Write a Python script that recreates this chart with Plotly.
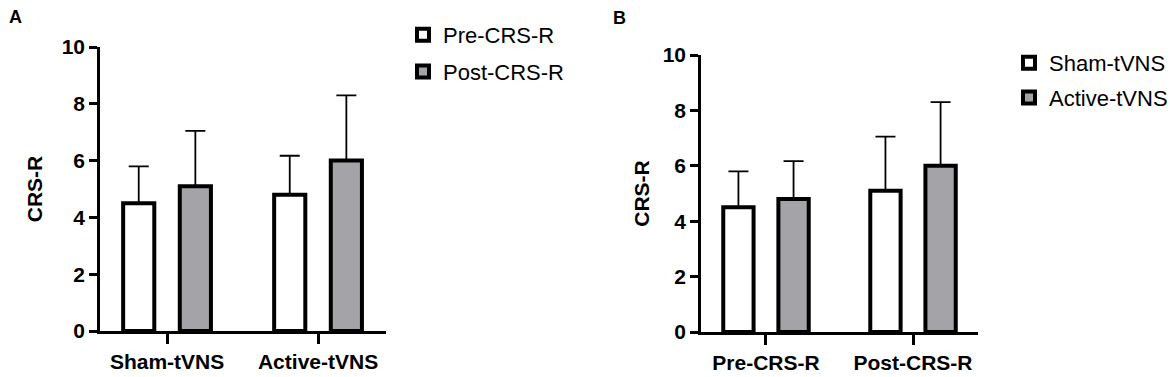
import plotly.graph_objects as go

W, H = 1170, 377

# ---- data ----
groups_a = ["Sham-tVNS", "Active-tVNS"]
pre_mean = [4.5, 4.8]       # Pre-CRS-R for Sham, Active
pre_sd = [1.3, 1.37]
post_mean = [5.1, 6.0]      # Post-CRS-R for Sham, Active
post_sd = [1.95, 2.3]

groups_b = ["Pre-CRS-R", "Post-CRS-R"]
sham_mean = [4.5, 5.1]
sham_sd = [1.3, 1.95]
active_mean = [4.8, 6.0]
active_sd = [1.37, 2.3]

y_ticks = [0, 2, 4, 6, 8, 10]

WHITE = "#ffffff"
GRAY = "#a4a3a8"
FONT = "Liberation Sans, Arial, sans-serif"

def bar(name, xs, ys, sd, color, xaxis, yaxis, legend):
    return go.Bar(
        name=name, x=xs, y=ys, xaxis=xaxis, yaxis=yaxis, legend=legend,
        marker=dict(color=color, line=dict(color="black", width=4)),
        error_y=dict(type="data", array=sd, arrayminus=[0] * len(sd),
                     symmetric=False, color="black", thickness=1.8, width=10),
        legendgroup=name,
    )

fig = go.Figure()
fig.add_trace(bar("Pre-CRS-R", groups_a, pre_mean, pre_sd, WHITE, "x", "y", "legend"))
fig.add_trace(bar("Post-CRS-R", groups_a, post_mean, post_sd, GRAY, "x", "y", "legend"))
fig.add_trace(bar("Sham-tVNS", groups_b, sham_mean, sham_sd, WHITE, "x2", "y2", "legend2"))
fig.add_trace(bar("Active-tVNS", groups_b, active_mean, active_sd, GRAY, "x2", "y2", "legend2"))

def px_x(p):
    return p / W

def px_y(p):
    return 1 - p / H

xcommon = dict(
    type="category", showline=True, linecolor="black", linewidth=2.5,
    ticks="outside", ticklen=10, tickwidth=2.5, tickcolor="black",
    tickfont=dict(family=FONT, size=21, color="black", weight="bold"),
    showgrid=False, zeroline=False, fixedrange=True, automargin=False,
)
ycommon = dict(
    range=[0, 10], tickvals=y_ticks, showline=True, linecolor="black", linewidth=2.5,
    ticks="outside", ticklen=8, tickwidth=2.5, tickcolor="black",
    tickfont=dict(family=FONT, size=21, color="black", weight="bold"),
    showgrid=False, zeroline=False, fixedrange=True, automargin=False,
)
title_font = dict(family=FONT, size=21, color="black", weight="bold")

fig.update_layout(
    width=W, height=H,
    margin=dict(l=0, r=0, t=0, b=0, autoexpand=False),
    paper_bgcolor="white", plot_bgcolor="white",
    barmode="group", bargap=0.25, bargroupgap=0.45,
    xaxis=dict(xcommon, domain=[px_x(100), px_x(386)], range=[-0.444, 1.45], anchor="y"),
    yaxis=dict(ycommon, domain=[px_y(331), px_y(47)], anchor="x",
               title=dict(text="CRS-R", font=title_font, standoff=14)),
    xaxis2=dict(xcommon, domain=[px_x(701), px_x(978)], range=[-0.442, 1.442], anchor="y2"),
    yaxis2=dict(ycommon, domain=[px_y(332), px_y(55)], anchor="x2",
                title=dict(text="CRS-R", font=title_font, standoff=8)),
    legend=dict(x=px_x(403), y=px_y(14), xanchor="left", yanchor="top",
                font=dict(family=FONT, size=22, color="black"),
                tracegroupgap=5, bgcolor="rgba(0,0,0,0)"),
    legend2=dict(x=px_x(1009), y=px_y(42), xanchor="left", yanchor="top",
                 font=dict(family=FONT, size=22, color="black"),
                 tracegroupgap=3, bgcolor="rgba(0,0,0,0)"),
    annotations=[
        dict(text="A", x=px_x(7), y=px_y(5), xref="paper", yref="paper",
             xanchor="left", yanchor="top", showarrow=False,
             font=dict(family=FONT, size=18, color="black", weight="bold")),
        dict(text="B", x=px_x(611), y=px_y(6), xref="paper", yref="paper",
             xanchor="left", yanchor="top", showarrow=False,
             font=dict(family=FONT, size=18, color="black", weight="bold")),
    ],
    showlegend=True,
)

fig.write_html("out.html", config={"displayModeBar": False},
               post_script="document.body.style.margin='0';document.body.style.overflow='hidden';")
